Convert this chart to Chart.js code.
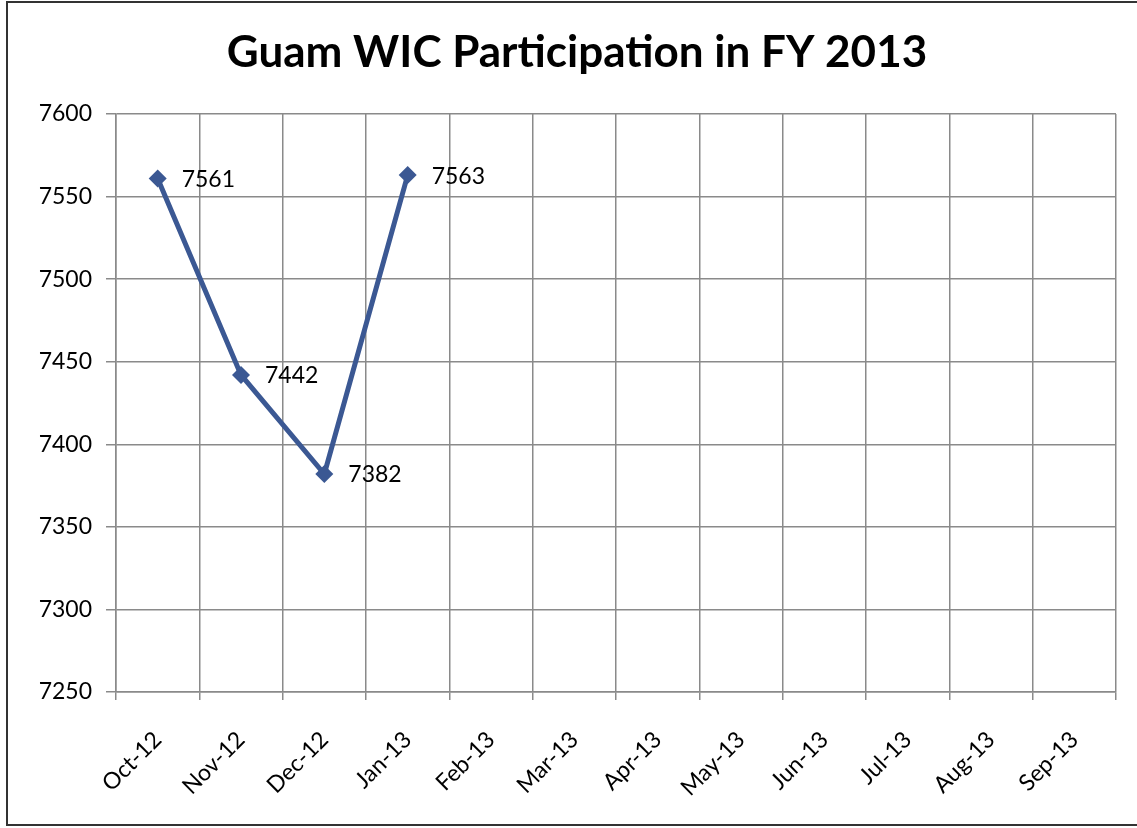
<!DOCTYPE html>
<html>
<head>
<meta charset="utf-8">
<script src="https://cdn.jsdelivr.net/npm/chart.js@4/dist/chart.umd.min.js"></script>
<style>
    body { margin: 0; background: #fff; }
    #wrap { width: 1137px; height: 828px; position: relative; }
</style>
</head>
<body>
<div id="wrap"><canvas id="wicChart" width="1137" height="828"></canvas></div>
<script>
const chartTitle = 'Guam WIC Participation in FY 2013';
const months = ['Oct-12', 'Nov-12', 'Dec-12', 'Jan-13', 'Feb-13', 'Mar-13', 'Apr-13', 'May-13', 'Jun-13', 'Jul-13', 'Aug-13', 'Sep-13'];
const participation = [7561, 7442, 7382, 7563, null, null, null, null, null, null, null, null];
const yMin = 7250;
const yMax = 7600;
const yStep = 50;

// value labels to the right of each point
const pointLabels = {
    id: 'pointLabels',
    afterDatasetsDraw(chart) {
        const ctx = chart.ctx;
        const meta = chart.getDatasetMeta(0);
        ctx.save();
        ctx.font = '23px Lato';
        ctx.fillStyle = '#000';
        ctx.textAlign = 'left';
        ctx.textBaseline = 'middle';
        meta.data.forEach(function(pt, i) {
            const v = participation[i];
            if (v === null) return;
            ctx.fillText(String(v), pt.x + 24, pt.y + 1);
        });
        ctx.restore();
    }
};

// title drawn over the whole frame width, and the outer frame of the scan
const frame = {
    id: 'frame',
    afterDraw(chart) {
        const ctx = chart.ctx;
        ctx.save();
        ctx.font = 'bold 44px Lato';
        ctx.fillStyle = '#000';
        ctx.textAlign = 'center';
        ctx.textBaseline = 'alphabetic';
        ctx.fillText(chartTitle, 577, 67);
        ctx.strokeStyle = '#333';
        ctx.lineWidth = 2;
        ctx.strokeRect(7, 2, 1140, 823);
        ctx.restore();
    }
};

const ctx = document.getElementById('wicChart').getContext('2d');
new Chart(ctx, {
    type: 'line',
    data: {
        labels: months,
        datasets: [{
            label: 'Participation',
            data: participation,
            borderColor: '#3b5893',
            backgroundColor: '#3b5893',
            borderWidth: 5,
            pointStyle: 'rectRot',
            pointRadius: 9,
            pointBorderWidth: 0,
            tension: 0,
            spanGaps: false
        }]
    },
    options: {
        responsive: false,
        animation: false,
        layout: {
            padding: { left: 0, right: 21, top: 114, bottom: 0 }
        },
        plugins: {
            legend: { display: false },
            tooltip: { enabled: false },
            title: { display: false }
        },
        scales: {
            y: {
                min: yMin,
                max: yMax,
                afterFit(scale) { scale.width = 116; },
                ticks: {
                    stepSize: yStep,
                    color: '#000',
                    padding: 14,
                    font: { family: 'Lato', size: 23 },
                    callback: function(value) { return String(value); }
                },
                grid: {
                    color: '#8a8a8a',
                    lineWidth: 1.5,
                    tickLength: 10
                },
                border: { color: '#8a8a8a', width: 1.5 }
            },
            x: {
                offset: true,
                afterFit(scale) { scale.height = 136; },
                ticks: {
                    color: '#000',
                    minRotation: 45,
                    maxRotation: 45,
                    padding: 26,
                    font: { family: 'Lato', size: 23 }
                },
                grid: {
                    offset: true,
                    color: '#8a8a8a',
                    lineWidth: 1.5,
                    tickLength: 8
                },
                border: { color: '#8a8a8a', width: 1.5 }
            }
        }
    },
    plugins: [pointLabels, frame]
});
</script>
</body>
</html>
